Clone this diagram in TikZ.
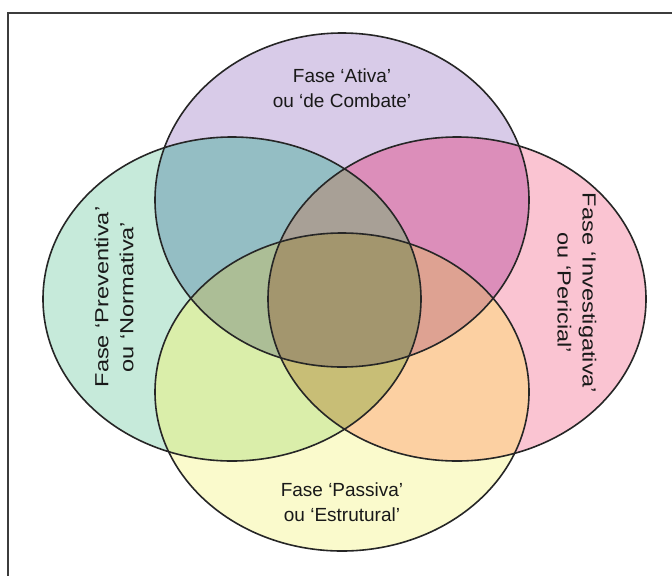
\documentclass[tikz,border=0pt]{standalone}
\usepackage{fontspec}
\setmainfont{Liberation Sans}
% colours of the single phases
\definecolor{cP}{RGB}{216,203,232}
\definecolor{cG}{RGB}{198,234,218}
\definecolor{cK}{RGB}{250,196,210}
\definecolor{cY}{RGB}{250,250,204}
% colours of the overlaps
\definecolor{cPG}{RGB}{148,190,196}
\definecolor{cPK}{RGB}{220,142,186}
\definecolor{cGY}{RGB}{218,238,170}
\definecolor{cKY}{RGB}{252,208,162}
\definecolor{cPGK}{RGB}{168,160,150}
\definecolor{cPGY}{RGB}{172,190,150}
\definecolor{cPKY}{RGB}{222,162,146}
\definecolor{cGKY}{RGB}{200,190,118}
\definecolor{cAll}{RGB}{163,150,110}
\definecolor{framec}{RGB}{60,60,60}
% the four phase ellipses
\newcommand\ellAtiva[1]{\path[#1] (342,200) ellipse [x radius=187, y radius=167];}
\newcommand\ellPrev[1]{\path[#1] (232,299) ellipse [x radius=189, y radius=162];}
\newcommand\ellInv[1]{\path[#1] (457,299) ellipse [x radius=189, y radius=162];}
\newcommand\ellPass[1]{\path[#1] (342,392) ellipse [x radius=187, y radius=159];}
\tikzset{
  outline/.style={draw=black!85, line width=1.6pt},
  label/.style={align=center, font=\fontsize{19}{25}\selectfont, text=black!90},
}
\begin{document}
\begin{tikzpicture}[x=1pt,y=-1pt]
\useasboundingbox (0,0) rectangle (672,576);
% frame
\draw[framec, line width=1.6pt] (672,13) -- (8,13) -- (8,576);
% single phases
\ellAtiva{fill=cP}\ellPrev{fill=cG}\ellInv{fill=cK}\ellPass{fill=cY}
% pairwise overlaps
\begin{scope}\ellAtiva{clip}\ellPrev{fill=cPG}\end{scope}
\begin{scope}\ellAtiva{clip}\ellInv{fill=cPK}\end{scope}
\begin{scope}\ellPass{clip}\ellPrev{fill=cGY}\end{scope}
\begin{scope}\ellPass{clip}\ellInv{fill=cKY}\end{scope}
% triple overlaps
\begin{scope}\ellAtiva{clip}\ellPrev{clip}\ellInv{fill=cPGK}\end{scope}
\begin{scope}\ellAtiva{clip}\ellPrev{clip}\ellPass{fill=cPGY}\end{scope}
\begin{scope}\ellAtiva{clip}\ellInv{clip}\ellPass{fill=cPKY}\end{scope}
\begin{scope}\ellPrev{clip}\ellInv{clip}\ellPass{fill=cGKY}\end{scope}
% common core
\begin{scope}\ellAtiva{clip}\ellPrev{clip}\ellInv{clip}\ellPass{fill=cAll}\end{scope}
% outlines
\ellAtiva{outline}\ellPrev{outline}\ellInv{outline}\ellPass{outline}
% phase names
\node[label] (tAtiva) at (342,88) {Fase ‘Ativa’\\ou ‘de Combate’};
\node[label] (tPass) at (342,502) {Fase ‘Passiva’\\ou ‘Estrutural’};
\node[label, rotate=90, xscale=1.24] (tPrev) at (114,297) {Fase ‘Preventiva’\\ou ‘Normativa’};
\node[label, rotate=-90, xscale=1.24] (tInv) at (577,293) {Fase ‘Investigativa’\\ou ‘Pericial’};
\end{tikzpicture}
\end{document}
